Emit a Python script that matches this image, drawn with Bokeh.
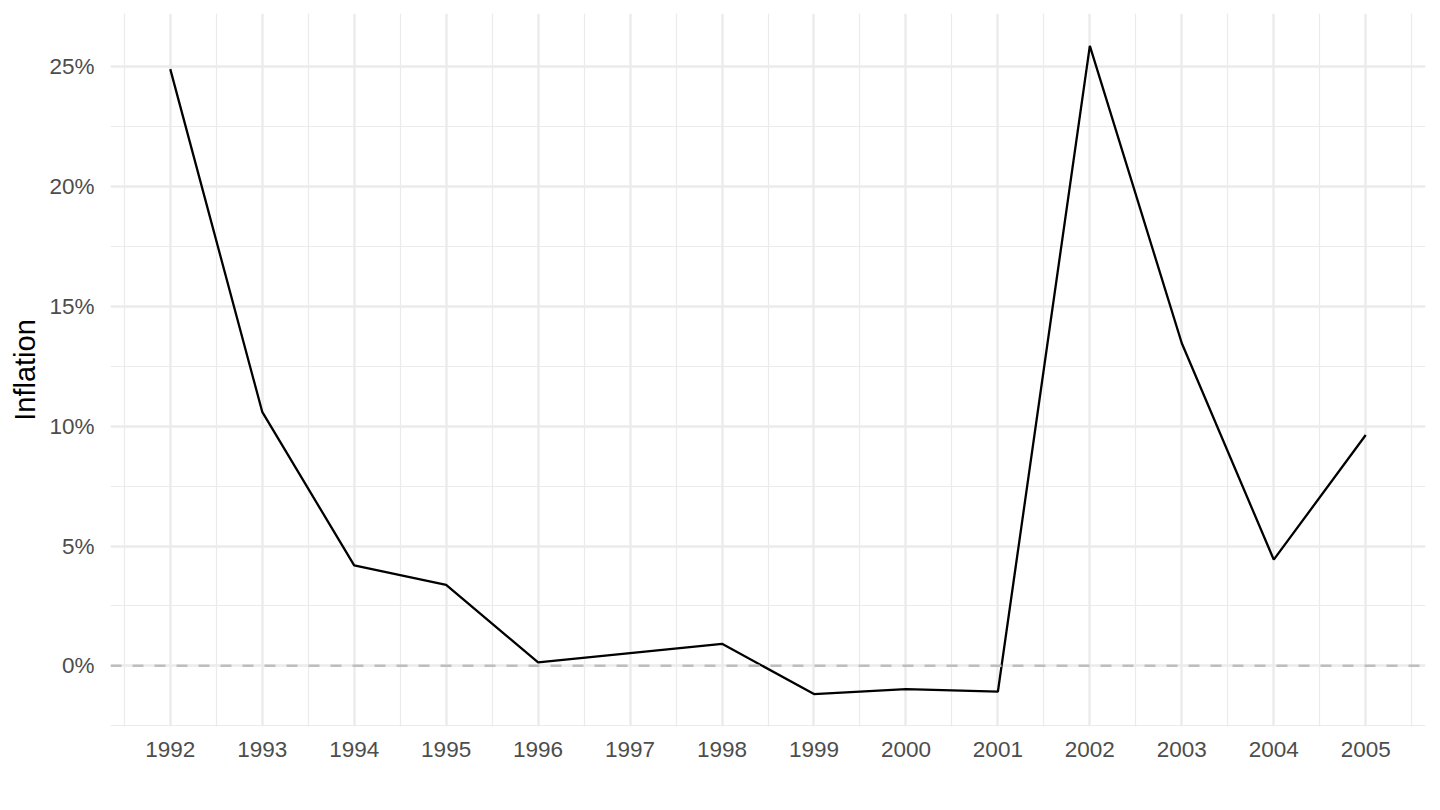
from bokeh.plotting import figure
from bokeh.models import Range1d, FixedTicker, PrintfTickFormatter, Span
from bokeh.embed import file_html
from bokeh.resources import INLINE

# inflation by year (percent)
years = [1992, 1993, 1994, 1995, 1996, 1997, 1998, 1999, 2000, 2001, 2002, 2003, 2004, 2005]
inflation = [24.9, 10.6, 4.19, 3.38, 0.14, 0.53, 0.92, -1.18, -0.97, -1.08, 25.87, 13.46, 4.43, 9.63]
y_ticks = [0, 5, 10, 15, 20, 25]
y_minor = [-2.5, 2.5, 7.5, 12.5, 17.5, 22.5]
x_minor = [y - 0.5 for y in years] + [years[-1] + 0.5]

FONT = "Liberation Sans"

x_pad = (max(years) - min(years)) * 0.05
y_pad = (max(inflation) - min(inflation)) * 0.05

p = figure(width=1432, height=800, output_backend="svg", toolbar_location=None,
           x_range=Range1d(min(years) - x_pad, max(years) + x_pad),
           y_range=Range1d(min(inflation) - y_pad, max(inflation) + y_pad),
           min_border_left=110, min_border_right=7, min_border_top=13, min_border_bottom=74)

p.outline_line_color = None
p.background_fill_color = "white"
p.border_fill_color = "white"

p.xaxis.ticker = FixedTicker(ticks=years, minor_ticks=x_minor)
p.yaxis.ticker = FixedTicker(ticks=y_ticks, minor_ticks=y_minor)
p.yaxis.formatter = PrintfTickFormatter(format="%d%%")

for g in (p.xgrid, p.ygrid):
    g.grid_line_color = "#EBEBEB"
    g.grid_line_width = 2.4
    g.minor_grid_line_color = "#EBEBEB"
    g.minor_grid_line_width = 1.2

for ax in (p.xaxis, p.yaxis):
    ax.axis_line_color = None
    ax.major_tick_line_color = None
    ax.minor_tick_line_color = None
    ax.major_label_text_font = FONT
    ax.major_label_text_font_size = "22.5px"
    ax.major_label_text_color = "#4D4D4D"

p.xaxis.major_label_standoff = 9
p.yaxis.major_label_standoff = 10
p.yaxis.axis_label = "Inflation"
p.yaxis.axis_label_text_font = FONT
p.yaxis.axis_label_text_font_size = "29px"
p.yaxis.axis_label_text_font_style = "normal"
p.yaxis.axis_label_text_color = "black"
p.yaxis.axis_label_standoff = 5

zero = Span(location=0, dimension="width", line_color="#BEBEBE", line_width=2.4, line_dash="11 11")
p.add_layout(zero)

p.line(years, inflation, line_color="black", line_width=2.3)

open("out.html", "w").write(file_html(p, INLINE))
